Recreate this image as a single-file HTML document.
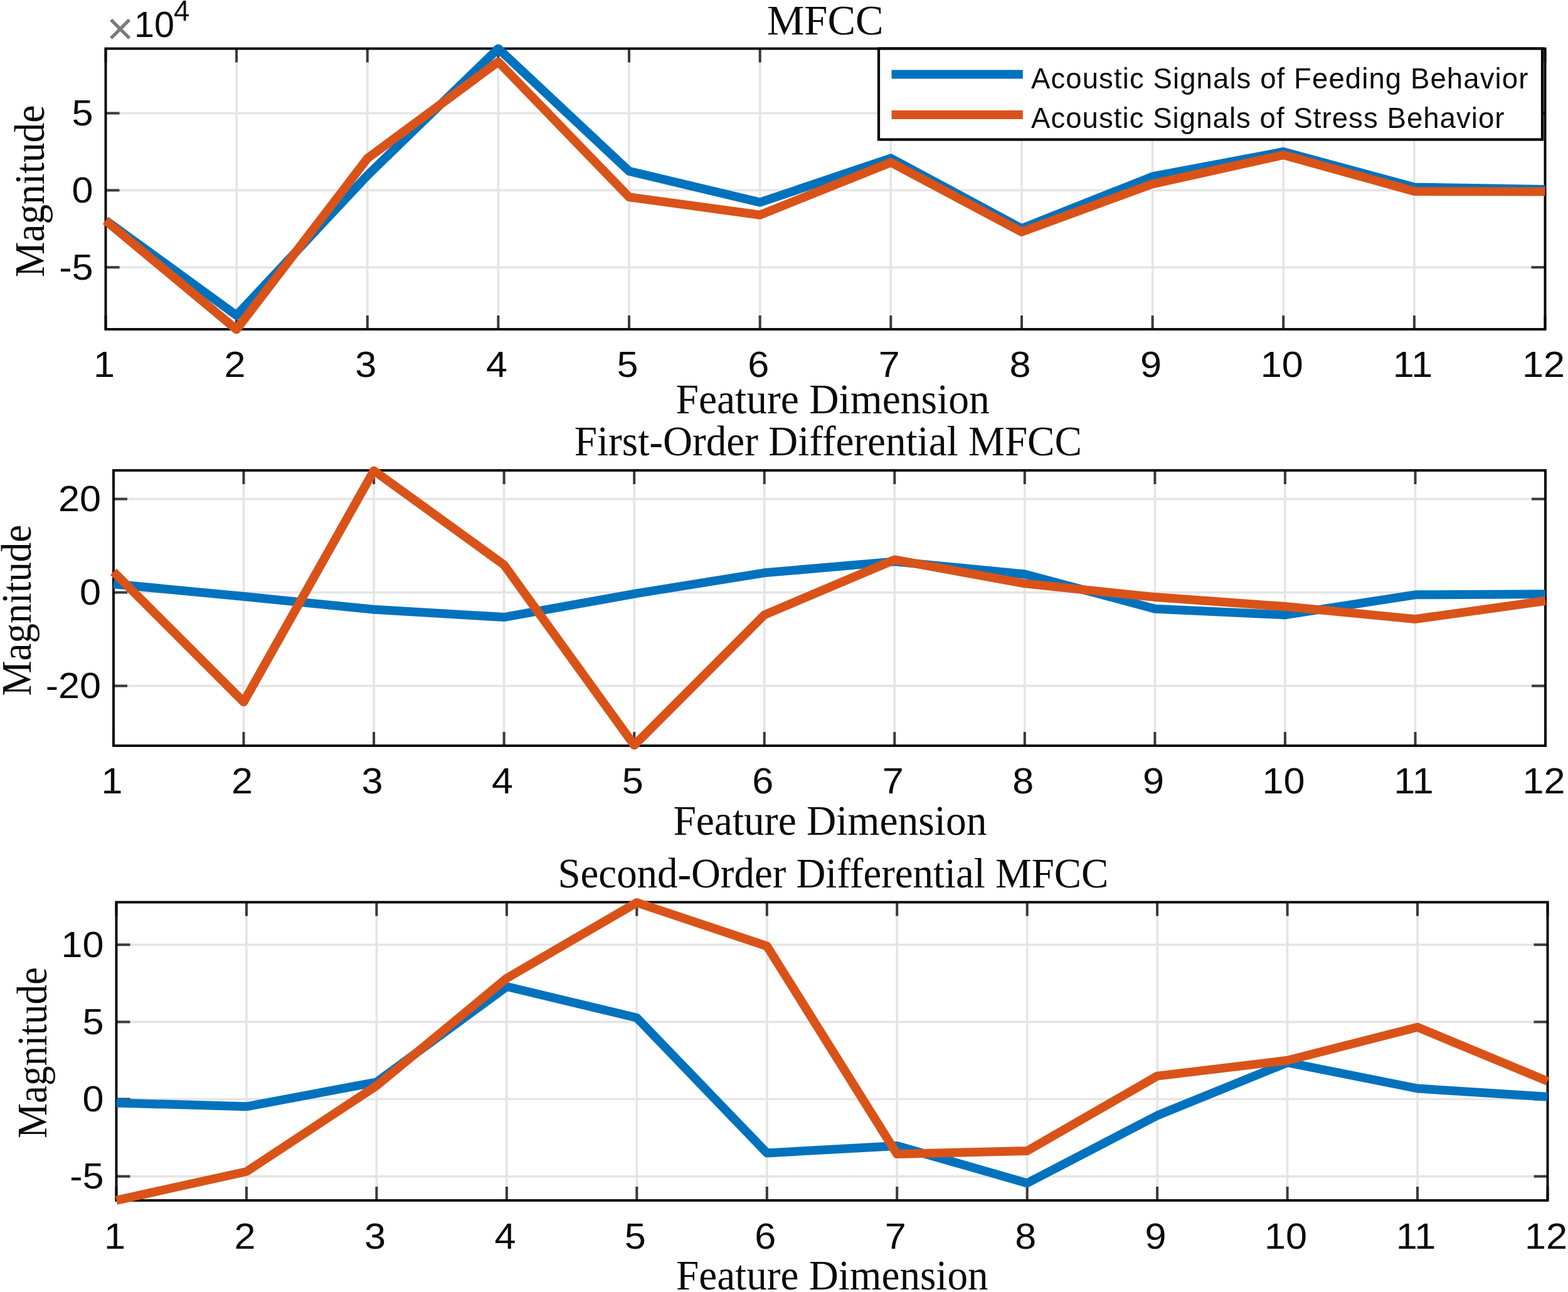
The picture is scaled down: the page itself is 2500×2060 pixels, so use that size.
<!DOCTYPE html>
<html><head><meta charset="utf-8"><title>MFCC</title>
<style>html,body{margin:0;padding:0;background:#fff;}body{width:2500px;height:2060px;overflow:hidden;}svg{display:block;}</style>
</head><body>
<svg width="2500" height="2060" viewBox="0 0 2500 2060">
<rect width="2500" height="2060" fill="#fff"/>
<g stroke="#e5e5e5" stroke-width="3.6"><line x1="377.1" y1="77.5" x2="377.1" y2="525"/><line x1="585.8" y1="77.5" x2="585.8" y2="525"/><line x1="794.4" y1="77.5" x2="794.4" y2="525"/><line x1="1003" y1="77.5" x2="1003" y2="525"/><line x1="1211.7" y1="77.5" x2="1211.7" y2="525"/><line x1="1420.3" y1="77.5" x2="1420.3" y2="525"/><line x1="1629" y1="77.5" x2="1629" y2="525"/><line x1="1837.6" y1="77.5" x2="1837.6" y2="525"/><line x1="2046.2" y1="77.5" x2="2046.2" y2="525"/><line x1="2254.9" y1="77.5" x2="2254.9" y2="525"/><line x1="168.5" y1="426.2" x2="2463.5" y2="426.2"/><line x1="168.5" y1="303.4" x2="2463.5" y2="303.4"/><line x1="168.5" y1="180.5" x2="2463.5" y2="180.5"/></g>
<g stroke="#3a3a3a" stroke-width="4"><line x1="168.5" y1="77.5" x2="168.5" y2="99.5"/><line x1="168.5" y1="525" x2="168.5" y2="503"/><line x1="377.1" y1="77.5" x2="377.1" y2="99.5"/><line x1="377.1" y1="525" x2="377.1" y2="503"/><line x1="585.8" y1="77.5" x2="585.8" y2="99.5"/><line x1="585.8" y1="525" x2="585.8" y2="503"/><line x1="794.4" y1="77.5" x2="794.4" y2="99.5"/><line x1="794.4" y1="525" x2="794.4" y2="503"/><line x1="1003" y1="77.5" x2="1003" y2="99.5"/><line x1="1003" y1="525" x2="1003" y2="503"/><line x1="1211.7" y1="77.5" x2="1211.7" y2="99.5"/><line x1="1211.7" y1="525" x2="1211.7" y2="503"/><line x1="1420.3" y1="77.5" x2="1420.3" y2="99.5"/><line x1="1420.3" y1="525" x2="1420.3" y2="503"/><line x1="1629" y1="77.5" x2="1629" y2="99.5"/><line x1="1629" y1="525" x2="1629" y2="503"/><line x1="1837.6" y1="77.5" x2="1837.6" y2="99.5"/><line x1="1837.6" y1="525" x2="1837.6" y2="503"/><line x1="2046.2" y1="77.5" x2="2046.2" y2="99.5"/><line x1="2046.2" y1="525" x2="2046.2" y2="503"/><line x1="2254.9" y1="77.5" x2="2254.9" y2="99.5"/><line x1="2254.9" y1="525" x2="2254.9" y2="503"/><line x1="2463.5" y1="77.5" x2="2463.5" y2="99.5"/><line x1="2463.5" y1="525" x2="2463.5" y2="503"/><line x1="168.5" y1="426.2" x2="190.5" y2="426.2"/><line x1="2463.5" y1="426.2" x2="2441.5" y2="426.2"/><line x1="168.5" y1="303.4" x2="190.5" y2="303.4"/><line x1="2463.5" y1="303.4" x2="2441.5" y2="303.4"/><line x1="168.5" y1="180.5" x2="190.5" y2="180.5"/><line x1="2463.5" y1="180.5" x2="2441.5" y2="180.5"/></g>
<rect x="168.5" y="77.5" width="2295" height="447.5" fill="none" stroke="#000" stroke-width="3.9"/>
<polyline points="168.5,351.3 377.1,502.9 585.8,279.6 794.4,77.4 1003,272.9 1211.7,322.6 1420.3,252.3 1629,364.3 1837.6,281.5 2046.2,242 2254.9,298.5 2463.5,301.9" fill="none" stroke="#0072BD" stroke-width="14.0" stroke-linejoin="round"/>
<polyline points="168.5,351.8 377.1,525.3 585.8,252.5 794.4,98.5 1003,314.2 1211.7,342.7 1420.3,258.9 1629,369.7 1837.6,293.3 2046.2,247.1 2254.9,305.1 2463.5,305.6" fill="none" stroke="#D95319" stroke-width="14.0" stroke-linejoin="round"/>
<g font-family="'Liberation Sans', Arial, sans-serif" font-size="56.6" fill="#0a0a0a" text-anchor="middle"><text transform="translate(166,601) scale(1.08,1)">1</text><text transform="translate(374.6,601) scale(1.08,1)">2</text><text transform="translate(583.3,601) scale(1.08,1)">3</text><text transform="translate(791.9,601) scale(1.08,1)">4</text><text transform="translate(1000.5,601) scale(1.08,1)">5</text><text transform="translate(1209.2,601) scale(1.08,1)">6</text><text transform="translate(1417.8,601) scale(1.08,1)">7</text><text transform="translate(1626.5,601) scale(1.08,1)">8</text><text transform="translate(1835.1,601) scale(1.08,1)">9</text><text transform="translate(2043.7,601) scale(1.08,1)">10</text><text transform="translate(2252.4,601) scale(1.08,1)">11</text><text transform="translate(2461,601) scale(1.08,1)">12</text></g>
<g font-family="'Liberation Sans', Arial, sans-serif" font-size="56.6" fill="#0a0a0a" text-anchor="end"><text transform="translate(148.5,445.7) scale(1.08,1)">-5</text><text transform="translate(148.5,322.9) scale(1.08,1)">0</text><text transform="translate(148.5,200) scale(1.08,1)">5</text></g>
<text x="1222.9" y="54.6" font-family="'Liberation Serif', 'Times New Roman', serif" font-size="68.5" fill="#0a0a0a" textLength="185.6" lengthAdjust="spacingAndGlyphs">MFCC</text>
<text x="1077.5" y="659" font-family="'Liberation Serif', 'Times New Roman', serif" font-size="68.5" fill="#0a0a0a" textLength="500.2" lengthAdjust="spacingAndGlyphs">Feature Dimension</text>
<text transform="translate(69.6,442) rotate(-90)" x="0" y="0" font-family="'Liberation Serif', 'Times New Roman', serif" font-size="68.5" fill="#0a0a0a" textLength="274.4" lengthAdjust="spacingAndGlyphs">Magnitude</text>
<g stroke="#e5e5e5" stroke-width="3.6"><line x1="388.5" y1="750" x2="388.5" y2="1189"/><line x1="596.1" y1="750" x2="596.1" y2="1189"/><line x1="803.6" y1="750" x2="803.6" y2="1189"/><line x1="1011.2" y1="750" x2="1011.2" y2="1189"/><line x1="1218.7" y1="750" x2="1218.7" y2="1189"/><line x1="1426.3" y1="750" x2="1426.3" y2="1189"/><line x1="1633.8" y1="750" x2="1633.8" y2="1189"/><line x1="1841.4" y1="750" x2="1841.4" y2="1189"/><line x1="2048.9" y1="750" x2="2048.9" y2="1189"/><line x1="2256.5" y1="750" x2="2256.5" y2="1189"/><line x1="181" y1="1093.6" x2="2464" y2="1093.6"/><line x1="181" y1="944.6" x2="2464" y2="944.6"/><line x1="181" y1="795.6" x2="2464" y2="795.6"/></g>
<g stroke="#3a3a3a" stroke-width="4"><line x1="181" y1="750" x2="181" y2="772"/><line x1="181" y1="1189" x2="181" y2="1167"/><line x1="388.5" y1="750" x2="388.5" y2="772"/><line x1="388.5" y1="1189" x2="388.5" y2="1167"/><line x1="596.1" y1="750" x2="596.1" y2="772"/><line x1="596.1" y1="1189" x2="596.1" y2="1167"/><line x1="803.6" y1="750" x2="803.6" y2="772"/><line x1="803.6" y1="1189" x2="803.6" y2="1167"/><line x1="1011.2" y1="750" x2="1011.2" y2="772"/><line x1="1011.2" y1="1189" x2="1011.2" y2="1167"/><line x1="1218.7" y1="750" x2="1218.7" y2="772"/><line x1="1218.7" y1="1189" x2="1218.7" y2="1167"/><line x1="1426.3" y1="750" x2="1426.3" y2="772"/><line x1="1426.3" y1="1189" x2="1426.3" y2="1167"/><line x1="1633.8" y1="750" x2="1633.8" y2="772"/><line x1="1633.8" y1="1189" x2="1633.8" y2="1167"/><line x1="1841.4" y1="750" x2="1841.4" y2="772"/><line x1="1841.4" y1="1189" x2="1841.4" y2="1167"/><line x1="2048.9" y1="750" x2="2048.9" y2="772"/><line x1="2048.9" y1="1189" x2="2048.9" y2="1167"/><line x1="2256.5" y1="750" x2="2256.5" y2="772"/><line x1="2256.5" y1="1189" x2="2256.5" y2="1167"/><line x1="2464" y1="750" x2="2464" y2="772"/><line x1="2464" y1="1189" x2="2464" y2="1167"/><line x1="181" y1="1093.6" x2="203" y2="1093.6"/><line x1="2464" y1="1093.6" x2="2442" y2="1093.6"/><line x1="181" y1="944.6" x2="203" y2="944.6"/><line x1="2464" y1="944.6" x2="2442" y2="944.6"/><line x1="181" y1="795.6" x2="203" y2="795.6"/><line x1="2464" y1="795.6" x2="2442" y2="795.6"/></g>
<rect x="181" y="750" width="2283" height="439" fill="none" stroke="#000" stroke-width="3.9"/>
<polyline points="181,931.2 388.5,951 596.1,971.8 803.6,984.1 1011.2,946.8 1218.7,913.3 1426.3,895.4 1633.8,915.5 1841.4,970.7 2048.9,980.4 2256.5,948.3 2464,947.2" fill="none" stroke="#0072BD" stroke-width="14.0" stroke-linejoin="round"/>
<polyline points="181,911.8 388.5,1119.3 596.1,750.4 803.6,900.6 1011.2,1188.2 1218.7,980.4 1426.3,892.5 1633.8,930.4 1841.4,952.1 2048.9,967 2256.5,987.1 2464,958" fill="none" stroke="#D95319" stroke-width="14.0" stroke-linejoin="round"/>
<g font-family="'Liberation Sans', Arial, sans-serif" font-size="56.6" fill="#0a0a0a" text-anchor="middle"><text transform="translate(178.5,1265) scale(1.08,1)">1</text><text transform="translate(386,1265) scale(1.08,1)">2</text><text transform="translate(593.6,1265) scale(1.08,1)">3</text><text transform="translate(801.1,1265) scale(1.08,1)">4</text><text transform="translate(1008.7,1265) scale(1.08,1)">5</text><text transform="translate(1216.2,1265) scale(1.08,1)">6</text><text transform="translate(1423.8,1265) scale(1.08,1)">7</text><text transform="translate(1631.3,1265) scale(1.08,1)">8</text><text transform="translate(1838.9,1265) scale(1.08,1)">9</text><text transform="translate(2046.4,1265) scale(1.08,1)">10</text><text transform="translate(2254,1265) scale(1.08,1)">11</text><text transform="translate(2461.5,1265) scale(1.08,1)">12</text></g>
<g font-family="'Liberation Sans', Arial, sans-serif" font-size="56.6" fill="#0a0a0a" text-anchor="end"><text transform="translate(161,1113.1) scale(1.08,1)">-20</text><text transform="translate(161,964.1) scale(1.08,1)">0</text><text transform="translate(161,815.1) scale(1.08,1)">20</text></g>
<text x="915.8" y="726.4" font-family="'Liberation Serif', 'Times New Roman', serif" font-size="68.5" fill="#0a0a0a" textLength="809.2" lengthAdjust="spacingAndGlyphs">First-Order Differential MFCC</text>
<text x="1073.4" y="1330.5" font-family="'Liberation Serif', 'Times New Roman', serif" font-size="68.5" fill="#0a0a0a" textLength="500" lengthAdjust="spacingAndGlyphs">Feature Dimension</text>
<text transform="translate(49.1,1109.5) rotate(-90)" x="0" y="0" font-family="'Liberation Serif', 'Times New Roman', serif" font-size="68.5" fill="#0a0a0a" textLength="272.8" lengthAdjust="spacingAndGlyphs">Magnitude</text>
<g stroke="#e5e5e5" stroke-width="3.6"><line x1="393" y1="1438.5" x2="393" y2="1914"/><line x1="600.4" y1="1438.5" x2="600.4" y2="1914"/><line x1="807.9" y1="1438.5" x2="807.9" y2="1914"/><line x1="1015.3" y1="1438.5" x2="1015.3" y2="1914"/><line x1="1222.8" y1="1438.5" x2="1222.8" y2="1914"/><line x1="1430.2" y1="1438.5" x2="1430.2" y2="1914"/><line x1="1637.7" y1="1438.5" x2="1637.7" y2="1914"/><line x1="1845.1" y1="1438.5" x2="1845.1" y2="1914"/><line x1="2052.6" y1="1438.5" x2="2052.6" y2="1914"/><line x1="2260" y1="1438.5" x2="2260" y2="1914"/><line x1="185.5" y1="1875.6" x2="2467.5" y2="1875.6"/><line x1="185.5" y1="1752.5" x2="2467.5" y2="1752.5"/><line x1="185.5" y1="1629.4" x2="2467.5" y2="1629.4"/><line x1="185.5" y1="1506.3" x2="2467.5" y2="1506.3"/></g>
<g stroke="#3a3a3a" stroke-width="4"><line x1="185.5" y1="1438.5" x2="185.5" y2="1460.5"/><line x1="185.5" y1="1914" x2="185.5" y2="1892"/><line x1="393" y1="1438.5" x2="393" y2="1460.5"/><line x1="393" y1="1914" x2="393" y2="1892"/><line x1="600.4" y1="1438.5" x2="600.4" y2="1460.5"/><line x1="600.4" y1="1914" x2="600.4" y2="1892"/><line x1="807.9" y1="1438.5" x2="807.9" y2="1460.5"/><line x1="807.9" y1="1914" x2="807.9" y2="1892"/><line x1="1015.3" y1="1438.5" x2="1015.3" y2="1460.5"/><line x1="1015.3" y1="1914" x2="1015.3" y2="1892"/><line x1="1222.8" y1="1438.5" x2="1222.8" y2="1460.5"/><line x1="1222.8" y1="1914" x2="1222.8" y2="1892"/><line x1="1430.2" y1="1438.5" x2="1430.2" y2="1460.5"/><line x1="1430.2" y1="1914" x2="1430.2" y2="1892"/><line x1="1637.7" y1="1438.5" x2="1637.7" y2="1460.5"/><line x1="1637.7" y1="1914" x2="1637.7" y2="1892"/><line x1="1845.1" y1="1438.5" x2="1845.1" y2="1460.5"/><line x1="1845.1" y1="1914" x2="1845.1" y2="1892"/><line x1="2052.6" y1="1438.5" x2="2052.6" y2="1460.5"/><line x1="2052.6" y1="1914" x2="2052.6" y2="1892"/><line x1="2260" y1="1438.5" x2="2260" y2="1460.5"/><line x1="2260" y1="1914" x2="2260" y2="1892"/><line x1="2467.5" y1="1438.5" x2="2467.5" y2="1460.5"/><line x1="2467.5" y1="1914" x2="2467.5" y2="1892"/><line x1="185.5" y1="1875.6" x2="207.5" y2="1875.6"/><line x1="2467.5" y1="1875.6" x2="2445.5" y2="1875.6"/><line x1="185.5" y1="1752.5" x2="207.5" y2="1752.5"/><line x1="2467.5" y1="1752.5" x2="2445.5" y2="1752.5"/><line x1="185.5" y1="1629.4" x2="207.5" y2="1629.4"/><line x1="2467.5" y1="1629.4" x2="2445.5" y2="1629.4"/><line x1="185.5" y1="1506.3" x2="207.5" y2="1506.3"/><line x1="2467.5" y1="1506.3" x2="2445.5" y2="1506.3"/></g>
<rect x="185.5" y="1438.5" width="2282" height="475.5" fill="none" stroke="#000" stroke-width="3.9"/>
<polyline points="185.5,1758.4 393,1764.3 600.4,1725.4 807.9,1573 1015.3,1622.8 1222.8,1838.4 1430.2,1826.9 1637.7,1886.4 1845.1,1778.6 2052.6,1694.2 2260,1735.5 2467.5,1748.8" fill="none" stroke="#0072BD" stroke-width="14.0" stroke-linejoin="round"/>
<polyline points="185.5,1913.8 393,1868 600.4,1731.1 807.9,1559.7 1015.3,1439.1 1222.8,1508.5 1430.2,1840.1 1637.7,1835 1845.1,1715.6 2052.6,1690.7 2260,1637.8 2467.5,1723.9" fill="none" stroke="#D95319" stroke-width="14.0" stroke-linejoin="round"/>
<g font-family="'Liberation Sans', Arial, sans-serif" font-size="56.6" fill="#0a0a0a" text-anchor="middle"><text transform="translate(183,1991) scale(1.08,1)">1</text><text transform="translate(390.5,1991) scale(1.08,1)">2</text><text transform="translate(597.9,1991) scale(1.08,1)">3</text><text transform="translate(805.4,1991) scale(1.08,1)">4</text><text transform="translate(1012.8,1991) scale(1.08,1)">5</text><text transform="translate(1220.3,1991) scale(1.08,1)">6</text><text transform="translate(1427.7,1991) scale(1.08,1)">7</text><text transform="translate(1635.2,1991) scale(1.08,1)">8</text><text transform="translate(1842.6,1991) scale(1.08,1)">9</text><text transform="translate(2050.1,1991) scale(1.08,1)">10</text><text transform="translate(2257.5,1991) scale(1.08,1)">11</text><text transform="translate(2465,1991) scale(1.08,1)">12</text></g>
<g font-family="'Liberation Sans', Arial, sans-serif" font-size="56.6" fill="#0a0a0a" text-anchor="end"><text transform="translate(165.5,1895.1) scale(1.08,1)">-5</text><text transform="translate(165.5,1772) scale(1.08,1)">0</text><text transform="translate(165.5,1648.9) scale(1.08,1)">5</text><text transform="translate(165.5,1525.8) scale(1.08,1)">10</text></g>
<text x="889.5" y="1414.8" font-family="'Liberation Serif', 'Times New Roman', serif" font-size="68.5" fill="#0a0a0a" textLength="877.8" lengthAdjust="spacingAndGlyphs">Second-Order Differential MFCC</text>
<text x="1078" y="2056" font-family="'Liberation Serif', 'Times New Roman', serif" font-size="68.5" fill="#0a0a0a" textLength="497.6" lengthAdjust="spacingAndGlyphs">Feature Dimension</text>
<text transform="translate(74,1814.9) rotate(-90)" x="0" y="0" font-family="'Liberation Serif', 'Times New Roman', serif" font-size="68.5" fill="#0a0a0a" textLength="272.8" lengthAdjust="spacingAndGlyphs">Magnitude</text>
<text x="170" y="71" font-family="'Liberation Sans', Arial, sans-serif" font-size="74" fill="#7a7a7a">×</text>
<text x="214" y="58.5" font-family="'Liberation Sans', Arial, sans-serif" font-size="56.6" fill="#0a0a0a" textLength="64" lengthAdjust="spacingAndGlyphs">10</text>
<text x="277" y="33.4" font-family="'Liberation Sans', Arial, sans-serif" font-size="45.3" fill="#0a0a0a">4</text>
<rect x="1401" y="77.5" width="1058" height="145" fill="#fff" stroke="#000" stroke-width="4.2"/>
<line x1="1421.5" y1="118.5" x2="1630.8" y2="118.5" stroke="#0072BD" stroke-width="14.0"/>
<line x1="1421.5" y1="183" x2="1630.8" y2="183" stroke="#D95319" stroke-width="14.0"/>
<text x="1644" y="141" font-family="'Liberation Sans', Arial, sans-serif" font-size="45.5" fill="#0a0a0a" textLength="792.3" lengthAdjust="spacing">Acoustic Signals of Feeding Behavior</text>
<text x="1644" y="203.5" font-family="'Liberation Sans', Arial, sans-serif" font-size="45.5" fill="#0a0a0a" textLength="754.5" lengthAdjust="spacing">Acoustic Signals of Stress Behavior</text>
</svg>
</body></html>
